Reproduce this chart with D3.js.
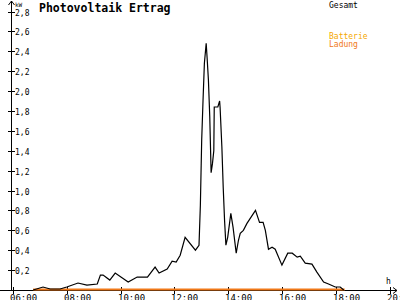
<!DOCTYPE html>
<html lang="de">
<head>
  <meta charset="UTF-8">
  <title>Photovoltaik Ertrag</title>
  <style>
    body { margin: 0; background: #fff; }
    svg { display: block; }
    text { font-family: "DejaVu Sans Mono", monospace; }
  </style>
</head>
<body>
  <script src="https://cdn.jsdelivr.net/npm/d3@7"></script>
  <script>
    // Gesamt (kW) over the day
    let gesamtTimes = ["06:45","07:07","07:23","07:45","08:00","08:25","08:45","09:08","09:15","09:21",
      "09:36","09:48","10:04","10:17","10:37","11:00","11:17","11:26","11:44","11:55",
      "12:04","12:13","12:24","12:47","12:55","12:58","13:01","13:04","13:07","13:11",
      "13:13","13:16","13:19","13:22","13:25","13:28","13:29","13:37","13:41","13:42",
      "13:46","13:49","13:52","13:55","13:59","14:06","14:11","14:18","14:23","14:27",
      "14:34","14:42","15:01","15:10","15:18","15:23","15:30","15:38","15:45","16:00",
      "16:13","16:23","16:34","16:41","16:52","17:07","17:18","17:33","17:44","17:59",
      "18:10","18:18"];
    let gesamtValues = [0.00,0.03,0.01,0.01,0.03,0.07,0.05,0.06,0.15,0.15,
      0.10,0.17,0.12,0.08,0.13,0.13,0.23,0.17,0.21,0.29,
      0.28,0.35,0.53,0.40,0.45,0.85,1.51,1.91,2.28,2.48,
      2.34,2.11,1.74,1.18,1.27,1.40,1.84,1.84,1.90,1.84,
      1.44,1.03,0.70,0.45,0.53,0.77,0.63,0.37,0.50,0.57,
      0.60,0.67,0.80,0.68,0.68,0.60,0.41,0.43,0.41,0.25,
      0.37,0.37,0.33,0.34,0.27,0.26,0.18,0.08,0.06,0.03,
      0.03,0.00];

    // Batterie Ladung (kW)
    let ladungTimes = ["06:45","18:20"];
    let ladungValues = [0, 0];

    let yTicks = [0.2,0.4,0.6,0.8,1.0,1.2,1.4,1.6,1.8,2.0,2.2,2.4,2.6,2.8];
    let xTicks = [6,8,10,12,14,16,18,20];

    let width = 400, height = 300;
    let toHours = s => { let p = s.split(":"); return +p[0] + p[1] / 60; };

    let svg = d3.select("body").append("svg")
      .attr("width", width)
      .attr("height", height);

    let x = d3.scaleLinear().domain([6, 20]).range([13, 389.5]);
    let y = d3.scaleLinear().domain([0, 2.8]).range([290, 11.5]);

    // axes lines with arrows
    svg.append("line").attr("x1", 0).attr("x2", 397).attr("y1", 290.5).attr("y2", 290.5)
      .attr("stroke", "#000");
    svg.append("path").attr("d", "M393,287.5L397,290.5L393,293.5").attr("fill", "none").attr("stroke", "#000");
    svg.append("line").attr("x1", 11.5).attr("x2", 11.5).attr("y1", 290).attr("y2", 1)
      .attr("stroke", "#000");
    svg.append("path").attr("d", "M8.5,5L11.5,1L14.5,5").attr("fill", "none").attr("stroke", "#000");

    // y ticks
    let yt = svg.append("g").selectAll("g").data(yTicks).enter().append("g")
      .attr("transform", d => `translate(0,${Math.round(y(d)) + 0.5})`);
    yt.append("line").attr("x1", 8).attr("x2", 15).attr("stroke", "#000");
    yt.append("text").attr("x", 15).attr("y", 3)
      .style("font-size", "8px")
      .text(d => d3.format(".1f")(d).replace(".", ","));

    svg.append("text").attr("x", 15).attr("y", 6.5).style("font-size", "6px").text("kW");

    // x ticks
    let xt = svg.append("g").selectAll("g").data(xTicks).enter().append("g")
      .attr("transform", d => `translate(${Math.round(x(d)) + 0.5},0)`);
    xt.append("line").attr("y1", 287).attr("y2", 294).attr("stroke", "#000");
    xt.append("text").attr("x", -3.5).attr("y", 301)
      .style("font-size", "9px")
      .text(d => d3.format("02")(d) + ":00");

    svg.append("text").attr("x", 386).attr("y", 284).style("font-size", "8px").text("h");

    // title
    svg.append("text").attr("x", 39).attr("y", 12)
      .style("font-size", "11.5px").style("font-weight", "bold")
      .text("Photovoltaik Ertrag");

    // legend
    svg.append("text").attr("x", 329).attr("y", 7.5).style("font-size", "8px").attr("fill", "#000").text("Gesamt");
    svg.append("text").attr("x", 329).attr("y", 38.5).style("font-size", "8px").attr("fill", "#f5a800").text("Batterie");
    svg.append("text").attr("x", 329).attr("y", 46.5).style("font-size", "8px").attr("fill", "#f07818").text("Ladung");

    let line = d3.line().x(d => x(d[0])).y(d => y(d[1]));

    svg.append("path")
      .datum(ladungTimes.map((t, i) => [toHours(t), ladungValues[i]]))
      .attr("d", line)
      .attr("transform", "translate(0,-0.5)")
      .attr("fill", "none").attr("stroke", "#f07818").attr("stroke-width", 2);

    svg.append("path")
      .datum(gesamtTimes.map((t, i) => [toHours(t), gesamtValues[i]]))
      .attr("d", line)
      .attr("fill", "none").attr("stroke", "#000").attr("stroke-width", 1.2);
  </script>
</body>
</html>
